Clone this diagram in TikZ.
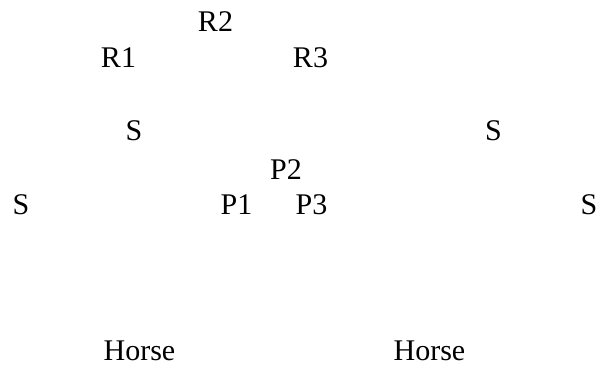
\documentclass[tikz,border=0pt]{standalone}
\usepackage{fontspec}
\setmainfont{Liberation Serif}
\begin{document}
\begin{tikzpicture}[x=1pt,y=1pt,
  lbl/.style={inner sep=0pt, anchor=base, font=\fontsize{30}{36}\selectfont}]
\useasboundingbox (0,0) rectangle (598,366);
\node[lbl] (r2) at (215.5,366-32) {R2};
\node[lbl] (r1) at (118.5,366-68) {R1};
\node[lbl] (r3) at (310.5,366-68) {R3};
\node[lbl] (s1) at (134,366-141) {S};
\node[lbl] (s2) at (493.5,366-141) {S};
\node[lbl] (p2) at (286,366-180) {P2};
\node[lbl] (s3) at (21,366-215) {S};
\node[lbl] (p1) at (236.5,366-215) {P1};
\node[lbl] (p3) at (311.5,366-215) {P3};
\node[lbl] (s4) at (589,366-215) {S};
\node[lbl] (h1) at (139.5,366-361) {Horse};
\node[lbl] (h2) at (429.5,366-361) {Horse};
\end{tikzpicture}
\end{document}
